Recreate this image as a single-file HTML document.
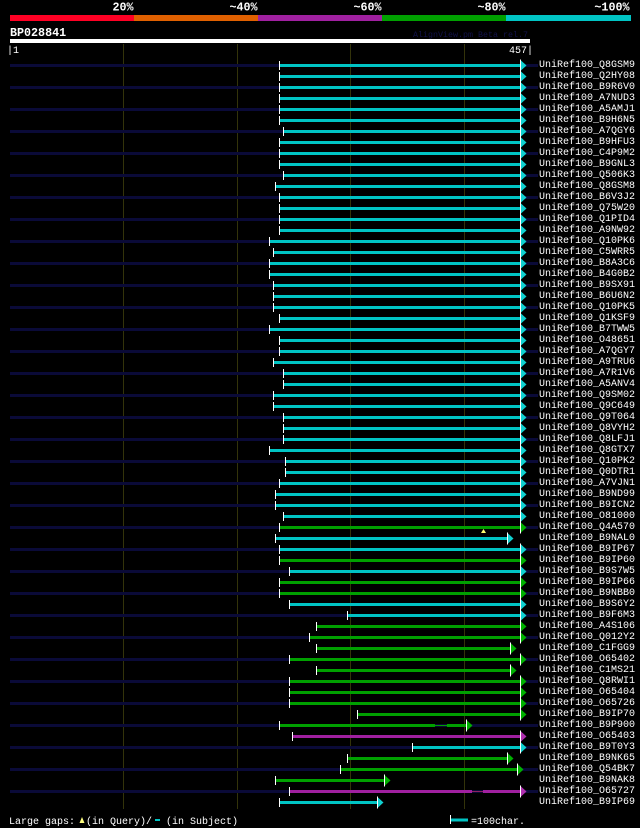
<!DOCTYPE html>
<html><head><meta charset="utf-8"><style>
html,body{margin:0;padding:0;background:#000;}
svg{display:block;}
text{font-family:"Liberation Mono",monospace;}
.l{font-size:10px;fill:#fff;}
.b{font-size:11.7px;font-weight:bold;fill:#fff;}
.q{fill:#0a0a38;}
.c{fill:#00c4c4;}
.g{fill:#00a000;}
.m{fill:#a020a0;}
</style></head><body>
<svg width="640" height="828" viewBox="0 0 640 828" xmlns="http://www.w3.org/2000/svg">
<defs>
<rect id="tk" x="0" y="-3" width="1" height="9" fill="#fff"/>
<g id="ac"><polygon points="1,-3.5 6.5,1.5 1,6.5" fill="#10d0d0"/><rect x="0" y="-4.5" width="1" height="12" fill="#fff"/></g>
<g id="ag"><polygon points="1,-3.5 6.5,1.5 1,6.5" fill="#00b000"/><rect x="0" y="-4.5" width="1" height="12" fill="#fff"/></g>
<g id="am"><polygon points="1,-3.5 6.5,1.5 1,6.5" fill="#b030b0"/><rect x="0" y="-4.5" width="1" height="12" fill="#fff"/></g>
</defs>
<rect width="640" height="828" fill="#000"/>
<!-- header -->
<text class="b" x="133.5" y="10.5" text-anchor="end">20%</text>
<text class="b" x="257.5" y="10.5" text-anchor="end">~40%</text>
<text class="b" x="381.5" y="10.5" text-anchor="end">~60%</text>
<text class="b" x="505.5" y="10.5" text-anchor="end">~80%</text>
<text class="b" x="629.5" y="10.5" text-anchor="end">~100%</text>
<rect x="10" y="15" width="124" height="6" fill="#ff0024"/>
<rect x="134" y="15" width="124" height="6" fill="#e06000"/>
<rect x="258" y="15" width="124" height="6" fill="#a020a0"/>
<rect x="382" y="15" width="124" height="6" fill="#00a000"/>
<rect x="506" y="15" width="125" height="6" fill="#00c4c4"/>
<text class="b" x="10" y="36">BP028841</text>
<text x="413" y="37" style="font-size:8.33px;fill:#12124a">AlignView.pm Beta rel.7</text>
<rect x="10" y="39" width="520" height="4" fill="#fff"/>
<text class="l" x="7" y="53">|1</text>
<text class="l" x="533" y="53" text-anchor="end">457|</text>
<!-- grid -->
<rect x="123" y="44" width="1" height="765" fill="#33330a"/>
<rect x="237" y="44" width="1" height="765" fill="#33330a"/>
<rect x="350" y="44" width="1" height="765" fill="#33330a"/>
<rect x="464" y="44" width="1" height="765" fill="#33330a"/>
<!-- rows -->
<g transform="translate(0,64)"><rect class="q" x="10" width="528" height="3"/><rect class="c" x="280" width="240" height="3"/><use href="#tk" x="279"/><use href="#ac" x="520"/><text class="l" x="539" y="3">UniRef100_Q8GSM9</text></g>
<g transform="translate(0,75)"><rect class="c" x="280" width="240" height="3"/><use href="#tk" x="279"/><use href="#ac" x="520"/><text class="l" x="539" y="3">UniRef100_Q2HY08</text></g>
<g transform="translate(0,86)"><rect class="q" x="10" width="528" height="3"/><rect class="c" x="280" width="240" height="3"/><use href="#tk" x="279"/><use href="#ac" x="520"/><text class="l" x="539" y="3">UniRef100_B9R6V0</text></g>
<g transform="translate(0,97)"><rect class="c" x="280" width="240" height="3"/><use href="#tk" x="279"/><use href="#ac" x="520"/><text class="l" x="539" y="3">UniRef100_A7NUD3</text></g>
<g transform="translate(0,108)"><rect class="q" x="10" width="528" height="3"/><rect class="c" x="280" width="240" height="3"/><use href="#tk" x="279"/><use href="#ac" x="520"/><text class="l" x="539" y="3">UniRef100_A5AMJ1</text></g>
<g transform="translate(0,119)"><rect class="c" x="280" width="240" height="3"/><use href="#tk" x="279"/><use href="#ac" x="520"/><text class="l" x="539" y="3">UniRef100_B9H6N5</text></g>
<g transform="translate(0,130)"><rect class="q" x="10" width="528" height="3"/><rect class="c" x="284" width="236" height="3"/><use href="#tk" x="283"/><use href="#ac" x="520"/><text class="l" x="539" y="3">UniRef100_A7QGY6</text></g>
<g transform="translate(0,141)"><rect class="c" x="280" width="240" height="3"/><use href="#tk" x="279"/><use href="#ac" x="520"/><text class="l" x="539" y="3">UniRef100_B9HFU3</text></g>
<g transform="translate(0,152)"><rect class="q" x="10" width="528" height="3"/><rect class="c" x="280" width="240" height="3"/><use href="#tk" x="279"/><use href="#ac" x="520"/><text class="l" x="539" y="3">UniRef100_C4P9M2</text></g>
<g transform="translate(0,163)"><rect class="c" x="280" width="240" height="3"/><use href="#tk" x="279"/><use href="#ac" x="520"/><text class="l" x="539" y="3">UniRef100_B9GNL3</text></g>
<g transform="translate(0,174)"><rect class="q" x="10" width="528" height="3"/><rect class="c" x="284" width="236" height="3"/><use href="#tk" x="283"/><use href="#ac" x="520"/><text class="l" x="539" y="3">UniRef100_Q506K3</text></g>
<g transform="translate(0,185)"><rect class="c" x="276" width="244" height="3"/><use href="#tk" x="275"/><use href="#ac" x="520"/><text class="l" x="539" y="3">UniRef100_Q8GSM8</text></g>
<g transform="translate(0,196)"><rect class="q" x="10" width="528" height="3"/><rect class="c" x="280" width="240" height="3"/><use href="#tk" x="279"/><use href="#ac" x="520"/><text class="l" x="539" y="3">UniRef100_B6V3J2</text></g>
<g transform="translate(0,207)"><rect class="c" x="280" width="240" height="3"/><use href="#tk" x="279"/><use href="#ac" x="520"/><text class="l" x="539" y="3">UniRef100_Q75W20</text></g>
<g transform="translate(0,218)"><rect class="q" x="10" width="528" height="3"/><rect class="c" x="280" width="240" height="3"/><use href="#tk" x="279"/><use href="#ac" x="520"/><text class="l" x="539" y="3">UniRef100_Q1PID4</text></g>
<g transform="translate(0,229)"><rect class="c" x="280" width="240" height="3"/><use href="#tk" x="279"/><use href="#ac" x="520"/><text class="l" x="539" y="3">UniRef100_A9NW92</text></g>
<g transform="translate(0,240)"><rect class="q" x="10" width="528" height="3"/><rect class="c" x="270" width="250" height="3"/><use href="#tk" x="269"/><use href="#ac" x="520"/><text class="l" x="539" y="3">UniRef100_Q10PK6</text></g>
<g transform="translate(0,251)"><rect class="c" x="274" width="246" height="3"/><use href="#tk" x="273"/><use href="#ac" x="520"/><text class="l" x="539" y="3">UniRef100_C5WRR5</text></g>
<g transform="translate(0,262)"><rect class="q" x="10" width="528" height="3"/><rect class="c" x="270" width="250" height="3"/><use href="#tk" x="269"/><use href="#ac" x="520"/><text class="l" x="539" y="3">UniRef100_B8A3C6</text></g>
<g transform="translate(0,273)"><rect class="c" x="270" width="250" height="3"/><use href="#tk" x="269"/><use href="#ac" x="520"/><text class="l" x="539" y="3">UniRef100_B4G0B2</text></g>
<g transform="translate(0,284)"><rect class="q" x="10" width="528" height="3"/><rect class="c" x="274" width="246" height="3"/><use href="#tk" x="273"/><use href="#ac" x="520"/><text class="l" x="539" y="3">UniRef100_B9SX91</text></g>
<g transform="translate(0,295)"><rect class="c" x="274" width="246" height="3"/><use href="#tk" x="273"/><use href="#ac" x="520"/><text class="l" x="539" y="3">UniRef100_B6U6N2</text></g>
<g transform="translate(0,306)"><rect class="q" x="10" width="528" height="3"/><rect class="c" x="274" width="246" height="3"/><use href="#tk" x="273"/><use href="#ac" x="520"/><text class="l" x="539" y="3">UniRef100_Q10PK5</text></g>
<g transform="translate(0,317)"><rect class="c" x="280" width="240" height="3"/><use href="#tk" x="279"/><use href="#ac" x="520"/><text class="l" x="539" y="3">UniRef100_Q1KSF9</text></g>
<g transform="translate(0,328)"><rect class="q" x="10" width="528" height="3"/><rect class="c" x="270" width="250" height="3"/><use href="#tk" x="269"/><use href="#ac" x="520"/><text class="l" x="539" y="3">UniRef100_B7TWW5</text></g>
<g transform="translate(0,339)"><rect class="c" x="280" width="240" height="3"/><use href="#tk" x="279"/><use href="#ac" x="520"/><text class="l" x="539" y="3">UniRef100_O48651</text></g>
<g transform="translate(0,350)"><rect class="q" x="10" width="528" height="3"/><rect class="c" x="280" width="240" height="3"/><use href="#tk" x="279"/><use href="#ac" x="520"/><text class="l" x="539" y="3">UniRef100_A7QGY7</text></g>
<g transform="translate(0,361)"><rect class="c" x="274" width="246" height="3"/><use href="#tk" x="273"/><use href="#ac" x="520"/><text class="l" x="539" y="3">UniRef100_A9TRU6</text></g>
<g transform="translate(0,372)"><rect class="q" x="10" width="528" height="3"/><rect class="c" x="284" width="236" height="3"/><use href="#tk" x="283"/><use href="#ac" x="520"/><text class="l" x="539" y="3">UniRef100_A7R1V6</text></g>
<g transform="translate(0,383)"><rect class="c" x="284" width="236" height="3"/><use href="#tk" x="283"/><use href="#ac" x="520"/><text class="l" x="539" y="3">UniRef100_A5ANV4</text></g>
<g transform="translate(0,394)"><rect class="q" x="10" width="528" height="3"/><rect class="c" x="274" width="246" height="3"/><use href="#tk" x="273"/><use href="#ac" x="520"/><text class="l" x="539" y="3">UniRef100_Q9SM02</text></g>
<g transform="translate(0,405)"><rect class="c" x="274" width="246" height="3"/><use href="#tk" x="273"/><use href="#ac" x="520"/><text class="l" x="539" y="3">UniRef100_Q9C649</text></g>
<g transform="translate(0,416)"><rect class="q" x="10" width="528" height="3"/><rect class="c" x="284" width="236" height="3"/><use href="#tk" x="283"/><use href="#ac" x="520"/><text class="l" x="539" y="3">UniRef100_Q9T064</text></g>
<g transform="translate(0,427)"><rect class="c" x="284" width="236" height="3"/><use href="#tk" x="283"/><use href="#ac" x="520"/><text class="l" x="539" y="3">UniRef100_Q8VYH2</text></g>
<g transform="translate(0,438)"><rect class="q" x="10" width="528" height="3"/><rect class="c" x="284" width="236" height="3"/><use href="#tk" x="283"/><use href="#ac" x="520"/><text class="l" x="539" y="3">UniRef100_Q8LFJ1</text></g>
<g transform="translate(0,449)"><rect class="c" x="270" width="250" height="3"/><use href="#tk" x="269"/><use href="#ac" x="520"/><text class="l" x="539" y="3">UniRef100_Q8GTX7</text></g>
<g transform="translate(0,460)"><rect class="q" x="10" width="528" height="3"/><rect class="c" x="286" width="234" height="3"/><use href="#tk" x="285"/><use href="#ac" x="520"/><text class="l" x="539" y="3">UniRef100_Q10PK2</text></g>
<g transform="translate(0,471)"><rect class="c" x="286" width="234" height="3"/><use href="#tk" x="285"/><use href="#ac" x="520"/><text class="l" x="539" y="3">UniRef100_Q0DTR1</text></g>
<g transform="translate(0,482)"><rect class="q" x="10" width="528" height="3"/><rect class="c" x="280" width="240" height="3"/><use href="#tk" x="279"/><use href="#ac" x="520"/><text class="l" x="539" y="3">UniRef100_A7VJN1</text></g>
<g transform="translate(0,493)"><rect class="c" x="276" width="244" height="3"/><use href="#tk" x="275"/><use href="#ac" x="520"/><text class="l" x="539" y="3">UniRef100_B9ND99</text></g>
<g transform="translate(0,504)"><rect class="q" x="10" width="528" height="3"/><rect class="c" x="276" width="244" height="3"/><use href="#tk" x="275"/><use href="#ac" x="520"/><text class="l" x="539" y="3">UniRef100_B9ICN2</text></g>
<g transform="translate(0,515)"><rect class="c" x="284" width="236" height="3"/><use href="#tk" x="283"/><use href="#ac" x="520"/><text class="l" x="539" y="3">UniRef100_O81000</text></g>
<g transform="translate(0,526)"><rect class="q" x="10" width="528" height="3"/><rect class="g" x="280" width="240" height="3"/><use href="#tk" x="279"/><use href="#ag" x="520"/><polygon points="483.5,3 486,7 481,7" fill="#ffff70"/><text class="l" x="539" y="3">UniRef100_Q4A570</text></g>
<g transform="translate(0,537)"><rect class="c" x="276" width="231" height="3"/><use href="#tk" x="275"/><use href="#ac" x="507"/><text class="l" x="539" y="3">UniRef100_B9NAL0</text></g>
<g transform="translate(0,548)"><rect class="q" x="10" width="528" height="3"/><rect class="c" x="280" width="240" height="3"/><use href="#tk" x="279"/><use href="#ac" x="520"/><text class="l" x="539" y="3">UniRef100_B9IP67</text></g>
<g transform="translate(0,559)"><rect class="g" x="280" width="240" height="3"/><use href="#tk" x="279"/><use href="#ag" x="520"/><text class="l" x="539" y="3">UniRef100_B9IP60</text></g>
<g transform="translate(0,570)"><rect class="q" x="10" width="528" height="3"/><rect class="c" x="290" width="230" height="3"/><use href="#tk" x="289"/><use href="#ac" x="520"/><text class="l" x="539" y="3">UniRef100_B9S7W5</text></g>
<g transform="translate(0,581)"><rect class="g" x="280" width="240" height="3"/><use href="#tk" x="279"/><use href="#ag" x="520"/><text class="l" x="539" y="3">UniRef100_B9IP66</text></g>
<g transform="translate(0,592)"><rect class="q" x="10" width="528" height="3"/><rect class="g" x="280" width="240" height="3"/><use href="#tk" x="279"/><use href="#ag" x="520"/><text class="l" x="539" y="3">UniRef100_B9NBB0</text></g>
<g transform="translate(0,603)"><rect class="c" x="290" width="230" height="3"/><use href="#tk" x="289"/><use href="#ac" x="520"/><text class="l" x="539" y="3">UniRef100_B9S6Y2</text></g>
<g transform="translate(0,614)"><rect class="q" x="10" width="528" height="3"/><rect class="c" x="348" width="172" height="3"/><use href="#tk" x="347"/><use href="#ac" x="520"/><text class="l" x="539" y="3">UniRef100_B9F6M3</text></g>
<g transform="translate(0,625)"><rect class="g" x="317" width="203" height="3"/><use href="#tk" x="316"/><use href="#ag" x="520"/><text class="l" x="539" y="3">UniRef100_A4S106</text></g>
<g transform="translate(0,636)"><rect class="q" x="10" width="528" height="3"/><rect class="g" x="310" width="210" height="3"/><use href="#tk" x="309"/><use href="#ag" x="520"/><text class="l" x="539" y="3">UniRef100_Q012Y2</text></g>
<g transform="translate(0,647)"><rect class="g" x="317" width="193" height="3"/><use href="#tk" x="316"/><use href="#ag" x="510"/><text class="l" x="539" y="3">UniRef100_C1FGG9</text></g>
<g transform="translate(0,658)"><rect class="q" x="10" width="528" height="3"/><rect class="g" x="290" width="230" height="3"/><use href="#tk" x="289"/><use href="#ag" x="520"/><text class="l" x="539" y="3">UniRef100_O65402</text></g>
<g transform="translate(0,669)"><rect class="g" x="317" width="193" height="3"/><use href="#tk" x="316"/><use href="#ag" x="510"/><text class="l" x="539" y="3">UniRef100_C1MS21</text></g>
<g transform="translate(0,680)"><rect class="q" x="10" width="528" height="3"/><rect class="g" x="290" width="230" height="3"/><use href="#tk" x="289"/><use href="#ag" x="520"/><text class="l" x="539" y="3">UniRef100_Q8RWI1</text></g>
<g transform="translate(0,691)"><rect class="g" x="290" width="230" height="3"/><use href="#tk" x="289"/><use href="#ag" x="520"/><text class="l" x="539" y="3">UniRef100_O65404</text></g>
<g transform="translate(0,702)"><rect class="q" x="10" width="528" height="3"/><rect class="g" x="290" width="230" height="3"/><use href="#tk" x="289"/><use href="#ag" x="520"/><text class="l" x="539" y="3">UniRef100_O65726</text></g>
<g transform="translate(0,713)"><rect class="g" x="358" width="162" height="3"/><use href="#tk" x="357"/><use href="#ag" x="520"/><text class="l" x="539" y="3">UniRef100_B9IP70</text></g>
<g transform="translate(0,724)"><rect class="q" x="10" width="528" height="3"/><rect class="g" x="280" width="155" height="3"/><rect class="g" x="435" y="1" width="12" height="1"/><rect class="g" x="447" width="19" height="3"/><use href="#tk" x="279"/><use href="#ag" x="466"/><text class="l" x="539" y="3">UniRef100_B9P900</text></g>
<g transform="translate(0,735)"><rect class="m" x="293" width="227" height="3"/><use href="#tk" x="292"/><use href="#am" x="520"/><text class="l" x="539" y="3">UniRef100_O65403</text></g>
<g transform="translate(0,746)"><rect class="q" x="10" width="528" height="3"/><rect class="c" x="413" width="107" height="3"/><use href="#tk" x="412"/><use href="#ac" x="520"/><text class="l" x="539" y="3">UniRef100_B9T0Y3</text></g>
<g transform="translate(0,757)"><rect class="g" x="348" width="159" height="3"/><use href="#tk" x="347"/><use href="#ag" x="507"/><text class="l" x="539" y="3">UniRef100_B9NK65</text></g>
<g transform="translate(0,768)"><rect class="q" x="10" width="528" height="3"/><rect class="g" x="341" width="176" height="3"/><use href="#tk" x="340"/><use href="#ag" x="517"/><text class="l" x="539" y="3">UniRef100_Q54BK7</text></g>
<g transform="translate(0,779)"><rect class="g" x="276" width="108" height="3"/><use href="#tk" x="275"/><use href="#ag" x="384"/><text class="l" x="539" y="3">UniRef100_B9NAK8</text></g>
<g transform="translate(0,790)"><rect class="q" x="10" width="528" height="3"/><rect class="m" x="290" width="182" height="3"/><rect x="472" y="1" width="11" height="1" fill="#902060"/><rect class="m" x="483" width="37" height="3"/><use href="#tk" x="289"/><use href="#am" x="520"/><text class="l" x="539" y="3">UniRef100_O65727</text></g>
<g transform="translate(0,801)"><rect class="c" x="280" width="97" height="3"/><use href="#tk" x="279"/><use href="#ac" x="377"/><text class="l" x="539" y="3">UniRef100_B9IP69</text></g>
<!-- legend -->
<text class="l" x="9" y="824">Large gaps:</text>
<polygon points="82,817 84.5,823 79.5,823" fill="#ffff80"/>
<text class="l" x="86" y="824">(in Query)/</text>
<rect x="155" y="819" width="5" height="2" fill="#00c4c4"/>
<text class="l" x="166" y="824">(in Subject)</text>
<rect x="450" y="815" width="1" height="9" fill="#fff"/>
<rect x="451" y="818.5" width="17" height="3" fill="#00c4c4"/>
<text class="l" x="471" y="824">=100char.</text>
</svg>
</body></html>
